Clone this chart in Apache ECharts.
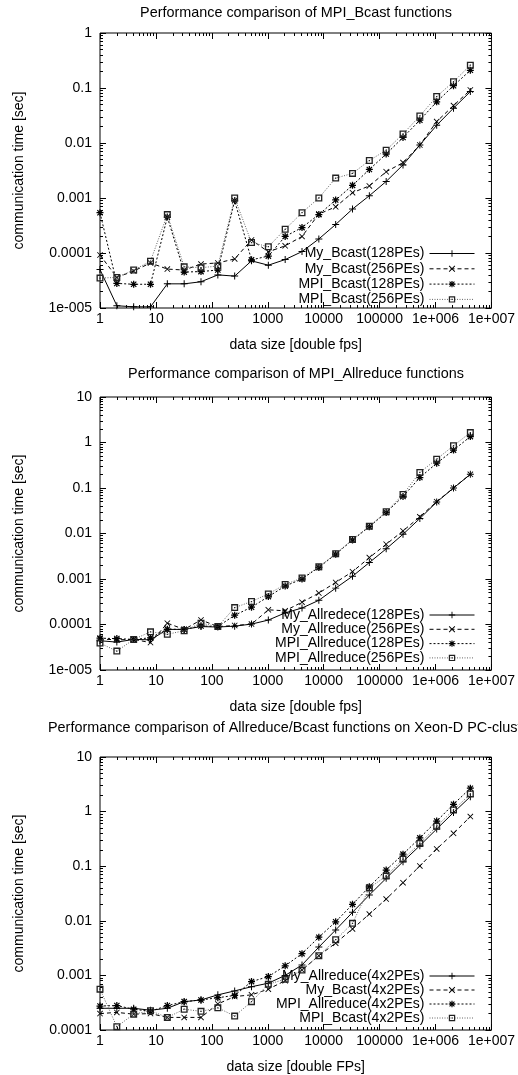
<!DOCTYPE html>
<html>
<head>
<meta charset="utf-8">
<script src="https://cdn.jsdelivr.net/npm/echarts@6/dist/echarts.min.js"></script>
<style>
html, body { margin: 0; padding: 0; background: #fff; }
#chart { width: 518px; height: 1075px; }
</style>
</head>
<body>
<div id="chart"></div>
<script>
//data size [double fps]
var dataSize = [1, 2, 4, 8, 16, 32, 64, 128, 256, 512, 1024, 2048, 4096, 8192, 16384,
    32768, 65536, 131072, 262144, 524288, 1048576, 2097152, 4194304];

//tick labels (gnuplot style)
var xTickLabels = ["1", "10", "100", "1000", "10000", "100000", "1e+006", "1e+007"];
var yTickLabels = ["1e-005", "0.0001", "0.001", "0.01", "0.1", "1", "10"];

//MPI_Bcast panel
var bcastNames = ["My_Bcast(128PEs)", "My_Bcast(256PEs)", "MPI_Bcast(128PEs)", "MPI_Bcast(256PEs)"];
var myBcast128 = [5.0e-5, 1.1e-5, 1.05e-5, 1.05e-5, 2.75e-5, 2.75e-5, 3.0e-5, 4.0e-5, 3.8e-5, 7.2e-5, 6.0e-5, 7.6e-5,
    1.06e-4, 1.8e-4, 3.3e-4, 6.3e-4, 1.1e-3, 2.0e-3, 4.0e-3, 9.2e-3, 0.021, 0.043, 0.086];
var myBcast256 = [9.2e-5, 3.6e-5, 4.7e-5, 6.6e-5, 5.1e-5, 4.9e-5, 6.3e-5, 6.6e-5, 7.8e-5, 1.73e-4, 1.05e-4, 1.35e-4,
    2.0e-4, 5.1e-4, 6.9e-4, 1.25e-3, 1.66e-3, 3.0e-3, 4.4e-3, 9.2e-3, 0.0245, 0.048, 0.092];
var mpiBcast128 = [5.4e-4, 2.8e-5, 2.7e-5, 2.7e-5, 4.5e-4, 4.5e-5, 4.6e-5, 4.9e-5, 8.9e-4, 7.5e-5, 8.8e-5, 2.0e-4,
    2.9e-4, 5.0e-4, 9.2e-4, 1.7e-3, 3.3e-3, 6.3e-3, 0.0126, 0.026, 0.056, 0.11, 0.21];
var mpiBcast256 = [3.5e-5, 3.6e-5, 4.9e-5, 7.1e-5, 5.0e-4, 5.6e-5, 5.4e-5, 5.8e-5, 1.0e-3, 1.55e-4, 1.3e-4, 2.7e-4,
    5.4e-4, 1.0e-3, 2.3e-3, 2.8e-3, 4.8e-3, 7.4e-3, 0.0146, 0.031, 0.07, 0.13, 0.26];

//MPI_Allreduce panel
var allreduceNames = ["My_Allredece(128PEs)", "My_Allreduce(256PEs)", "MPI_Allreduce(128PEs)", "MPI_Allreduce(256PEs)"];
var myAllreduce128 = [4.4e-5, 4.1e-5, 4.7e-5, 4.6e-5, 7.8e-5, 7.8e-5, 9.0e-5, 8.8e-5, 9.2e-5, 1.02e-4, 1.25e-4, 1.8e-4,
    2.3e-4, 3.4e-4, 6.3e-4, 1.15e-3, 2.3e-3, 4.6e-3, 9.6e-3, 0.0214, 0.049, 0.10, 0.20];
var myAllreduce256 = [4.8e-5, 4.6e-5, 4.7e-5, 4.0e-5, 1.07e-4, 7.8e-5, 1.26e-4, 9.0e-5, 9.5e-5, 1.02e-4, 2.1e-4, 2.0e-4,
    3.1e-4, 4.9e-4, 8.4e-4, 1.45e-3, 2.95e-3, 5.8e-3, 0.0114, 0.0233, 0.050, 0.10, 0.20];
var mpiAllreduce128 = [5.0e-5, 4.9e-5, 4.7e-5, 5.1e-5, 7.9e-5, 7.8e-5, 9.3e-5, 9.0e-5, 1.6e-4, 2.4e-4, 4.1e-4, 7.0e-4,
    1.0e-3, 1.8e-3, 3.5e-3, 7.2e-3, 0.0141, 0.029, 0.065, 0.17, 0.35, 0.68, 1.35];
var mpiAllreduce256 = [3.9e-5, 2.6e-5, 4.7e-5, 6.9e-5, 6.1e-5, 7.3e-5, 1.07e-4, 9.0e-5, 2.35e-4, 3.2e-4, 4.7e-4, 7.6e-4,
    1.05e-3, 1.85e-3, 3.6e-3, 7.4e-3, 0.0145, 0.030, 0.072, 0.22, 0.43, 0.85, 1.65];

//Xeon-D PC-cluster panel
var xeonNames = ["My_Allreduce(4x2PEs)", "My_Bcast(4x2PEs)", "MPI_Allreduce(4x2PEs)", "MPI_Bcast(4x2PEs)"];
var myAllreduceXeon = [2.5e-4, 2.5e-4, 2.5e-4, 2.3e-4, 2.5e-4, 3.3e-4, 3.55e-4, 4.4e-4, 5.2e-4, 6.2e-4, 7.2e-4, 1.0e-3,
    1.55e-3, 3.3e-3, 6.8e-3, 0.0143, 0.0297, 0.060, 0.121, 0.238, 0.48, 0.96, 1.88];
var myBcastXeon = [2.0e-4, 2.1e-4, 1.95e-4, 2.0e-4, 1.7e-4, 1.7e-4, 1.7e-4, 3.0e-4, 4.1e-4, 4.4e-4, 5.6e-4, 8.0e-4,
    1.25e-3, 2.3e-3, 3.9e-3, 7.1e-3, 0.0133, 0.025, 0.050, 0.101, 0.207, 0.40, 0.81];
var mpiAllreduceXeon = [2.75e-4, 2.8e-4, 2.4e-4, 2.2e-4, 2.8e-4, 3.3e-4, 3.55e-4, 3.9e-4, 4.3e-4, 7.7e-4, 9.5e-4, 1.5e-3,
    2.5e-3, 5.0e-3, 9.6e-3, 0.020, 0.042, 0.085, 0.166, 0.33, 0.67, 1.36, 2.68];
var mpiBcastXeon = [5.6e-4, 1.15e-4, 1.95e-4, 2.25e-4, 1.7e-4, 2.4e-4, 2.2e-4, 2.55e-4, 1.8e-4, 3.3e-4, 6.9e-4, 8.5e-4,
    1.25e-3, 2.3e-3, 4.5e-3, 9.0e-3, 0.040, 0.066, 0.135, 0.26, 0.54, 1.07, 2.1];

//init
var chart = echarts.init(document.getElementById("chart"));
var fontName = "Liberation Sans, Arial, Helvetica, sans-serif";

//point marks: + x * and hollow square
var plusMark = "path://M0,4.3H10V5.7H0Z M4.3,0H5.7V10H4.3Z";
var crossMark = "path://M0,1L1,0L10,9L9,10Z M9,0L10,1L1,10L0,9Z";
var starMark = "path://M0,4.1H10V5.9H0Z M4.1,0H5.9V10H4.1Z M0.6,1.8L1.8,0.6L9.4,8.2L8.2,9.4Z M8.2,0.6L9.4,1.8L1.8,9.4L0.6,8.2Z";
var boxMark = "path://M0,0H10V10H0Z M1.9,1.9V8.1H8.1V1.9Z M4.1,4.1H5.9V5.9H4.1Z";

var looks = [
    { symbol: plusMark, size: 7, dash: "solid", color: "#000", mark: "#000" },
    { symbol: crossMark, size: 6, dash: [4, 3], color: "#000", mark: "#000" },
    { symbol: starMark, size: 7, dash: [2, 2], color: "#000", mark: "#000" },
    { symbol: boxMark, size: 7, dash: [1, 1.5], color: "#666", mark: "#222" }
];

var panels = [
    {
        title: "Performance comparison of MPI_Bcast functions", titleLeft: 296, titleAlign: "center", titleTop: 6,
        top: 33, height: 275, yMin: 1e-5, yMax: 1, xName: "data size [double fps]",
        names: bcastNames, values: [myBcast128, myBcast256, mpiBcast128, mpiBcast256],
        legendTop: 246, lineHeight: 15, legendGap: 0.3
    },
    {
        title: "Performance comparison of MPI_Allreduce functions", titleLeft: 296, titleAlign: "center", titleTop: 367,
        top: 397, height: 273, yMin: 1e-5, yMax: 10, xName: "data size [double fps]",
        names: allreduceNames, values: [myAllreduce128, myAllreduce256, mpiAllreduce128, mpiAllreduce256],
        legendTop: 608, lineHeight: 14, legendGap: 0.3
    },
    {
        title: "Performance comparison of Allreduce/Bcast functions on Xeon-D PC-cluster", titleLeft: 48, titleAlign: "left", titleTop: 721,
        top: 757, height: 273, yMin: 1e-4, yMax: 10, xName: "data size [double FPs]",
        names: xeonNames, values: [myAllreduceXeon, myBcastXeon, mpiAllreduceXeon, mpiBcastXeon],
        legendTop: 969, lineHeight: 14, legendGap: 0
    }
];

//minor ticks at 2..9 of each decade
function minorTicks(lo, hi) {
    var out = [];
    for (var d = lo; d < hi; d *= 10) {
        for (var m = 2; m <= 9; m++) {
            out.push(+(d * m).toPrecision(6));
        }
    }
    return out;
}

function xLabel(v) {
    return xTickLabels[Math.round(Math.log10(v))];
}
function yLabel(v) {
    return yTickLabels[Math.round(Math.log10(v)) + 5];
}

var option = {
    animation: false,
    backgroundColor: "#fff",
    title: [],
    grid: [],
    xAxis: [],
    yAxis: [],
    legend: [],
    series: []
};

var textStyle = { fontFamily: fontName, fontSize: 14, color: "#000", fontWeight: "normal" };
var titleStyle = { fontFamily: fontName, fontSize: 14.4, color: "#000", fontWeight: "normal" };

for (var i = 0; i < panels.length; i++) {
    var p = panels[i];
    option.title.push({
        text: p.title,
        left: p.titleLeft,
        top: p.titleTop,
        textAlign: p.titleAlign,
        padding: 0,
        textStyle: titleStyle
    });
    option.grid.push({
        left: 100, width: 392, top: p.top, height: p.height,
        show: true, borderColor: "#000", borderWidth: 1
    });

    //x axes: bottom with labels, then minor bottom, top, minor top
    var xMinor = minorTicks(1, 1e7);
    var xBase = { type: "log", gridIndex: i, min: 1, max: 1e7, splitNumber: 10,
        axisLine: { show: false }, splitLine: { show: false } };
    option.xAxis.push(echarts.util.merge({
        position: "bottom",
        axisTick: { inside: true, length: 6, lineStyle: { color: "#000" } },
        axisLabel: { margin: 4, fontFamily: fontName, fontSize: 14, color: "#000",
            showMinLabel: true, showMaxLabel: true, formatter: xLabel },
        name: p.xName, nameLocation: "middle", nameGap: 30, nameTextStyle: textStyle
    }, xBase, true));
    option.xAxis.push(echarts.util.merge({
        position: "bottom", axisLabel: { show: false },
        axisTick: { inside: true, length: 3, customValues: xMinor, lineStyle: { color: "#000" } }
    }, xBase, true));
    option.xAxis.push(echarts.util.merge({
        position: "top", axisLabel: { show: false },
        axisTick: { inside: true, length: 6, lineStyle: { color: "#000" } }
    }, xBase, true));
    option.xAxis.push(echarts.util.merge({
        position: "top", axisLabel: { show: false },
        axisTick: { inside: true, length: 3, customValues: xMinor, lineStyle: { color: "#000" } }
    }, xBase, true));

    //y axes: left with labels, then minor left, right, minor right
    var yMinor = minorTicks(p.yMin, p.yMax);
    var yBase = { type: "log", gridIndex: i, min: p.yMin, max: p.yMax, splitNumber: 10,
        axisLine: { show: false }, splitLine: { show: false } };
    option.yAxis.push(echarts.util.merge({
        position: "left",
        axisTick: { inside: true, length: 6, lineStyle: { color: "#000" } },
        axisLabel: { margin: 8, fontFamily: fontName, fontSize: 14, color: "#000",
            showMinLabel: true, showMaxLabel: true, formatter: yLabel },
        name: "communication time [sec]", nameLocation: "middle", nameRotate: 90, nameGap: 74,
        nameTextStyle: textStyle
    }, yBase, true));
    option.yAxis.push(echarts.util.merge({
        position: "left", axisLabel: { show: false },
        axisTick: { inside: true, length: 3, customValues: yMinor, lineStyle: { color: "#000" } }
    }, yBase, true));
    option.yAxis.push(echarts.util.merge({
        position: "right", axisLabel: { show: false },
        axisTick: { inside: true, length: 6, lineStyle: { color: "#000" } }
    }, yBase, true));
    option.yAxis.push(echarts.util.merge({
        position: "right", axisLabel: { show: false },
        axisTick: { inside: true, length: 3, customValues: yMinor, lineStyle: { color: "#000" } }
    }, yBase, true));

    option.legend.push({
        data: p.names,
        orient: "vertical",
        align: "right",
        right: 43,
        top: p.legendTop,
        padding: 0,
        itemWidth: 45,
        itemHeight: 8,
        itemGap: p.legendGap,
        selectedMode: false,
        lineStyle: { width: 1 },
        textStyle: { fontFamily: fontName, fontSize: 14, color: "#000", lineHeight: p.lineHeight }
    });

    for (var s = 0; s < 4; s++) {
        var pts = [];
        for (var k = 0; k < dataSize.length; k++) {
            pts.push([dataSize[k], p.values[s][k]]);
        }
        option.series.push({
            name: p.names[s],
            type: "line",
            xAxisIndex: i * 4,
            yAxisIndex: i * 4,
            data: pts,
            symbol: looks[s].symbol,
            symbolSize: looks[s].size,
            showAllSymbol: true,
            lineStyle: { color: looks[s].color, width: 1, type: looks[s].dash },
            itemStyle: { color: looks[s].mark, borderWidth: 0 },
            z: 2 + s
        });
    }
}

chart.setOption(option);
</script>
</body>
</html>
